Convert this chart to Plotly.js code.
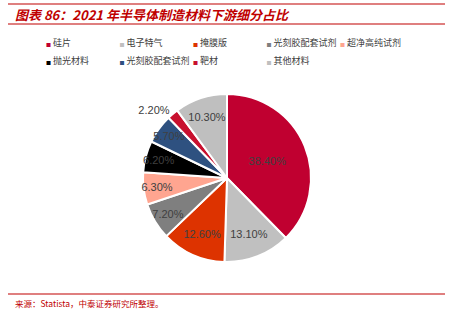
<!DOCTYPE html>
<html><head><meta charset="utf-8">
<script src="https://cdn.plot.ly/plotly-3.0.1.min.js"></script>
<style>html,body{margin:0;padding:0;background:#fff}#chart{width:449px;height:312px}</style>
</head><body><div id="chart"></div>
<script>
var categories = ['硅片','电子特气','掩膜版','光刻胶配套试剂','超净高纯试剂','抛光材料','光刻胶配套试剂','靶材','其他材料'];
var shares = [38.4, 13.1, 12.6, 7.2, 6.3, 6.2, 5.7, 2.2, 10.3];
var colors = ['#c00030','#c0c0c0','#dd3300','#7f7f7f','#ffa590','#000000','#2e5180','#c8102e','#bfbfbf'];
var textPos = ['inside','inside','inside','inside','inside','inside','inside','outside','inside'];
var legendRow = ['legend','legend','legend','legend','legend','legend2','legend2','legend2','legend2'];
var titleText = '图表 86：2021 年半导体制造材料下游细分占比';
var sourceText = '来源：Statista，中泰证券研究所整理。';

var W = 449, H = 312;
function px(x){return x/W;} function py(y){return 1 - y/H;}

var pieBase = {
  type:'pie',
  ids: categories.map(function(c,i){return 'slice'+i;}),
  labels: categories.map(function(c,i){return c + '\u200b'.repeat(i);}),
  values: shares,
  sort:false, direction:'clockwise', rotation:0,
  domain:{x:[px(143), px(311)], y:[py(262), py(94)]},
  showlegend:false, hoverinfo:'none'
};
var pieFill = Object.assign({}, pieBase, {
  marker:{colors:colors, line:{color:'#ffffff', width:2}},
  textinfo:'none'
});
var pieText = Object.assign({}, pieBase, {
  marker:{colors:shares.map(function(){return 'rgba(0,0,0,0)';}), line:{width:0}},
  texttemplate: shares.map(function(v){return v.toFixed(2)+'%';}),
  textposition: textPos,
  insidetextorientation:'horizontal',
  textfont:{family:'Liberation Sans, Arial, sans-serif', size:11, color:'#404040'},
  outsidetextfont:{family:'Liberation Sans, Arial, sans-serif', size:11, color:'#404040'}
});
var traces = [pieFill, pieText];
categories.forEach(function(c,i){
  var lastInRow = (i === legendRow.length - 1) || (legendRow[i+1] !== legendRow[i]);
  traces.push({type:'scatter', mode:'markers', x:[null], y:[null], legend:legendRow[i],
    name:'<span style="color:'+colors[i]+';font-size:5px">■</span> ' + c,
    legendwidth: lastInRow ? 75 : 28.5,
    marker:{symbol:'square', size:1, color:'rgba(0,0,0,0)', line:{width:0, color:'rgba(0,0,0,0)'}},
    showlegend:true, hoverinfo:'none'});
});

function legendAt(yPix){
  return {orientation:'h', x:px(6), y:py(yPix), xanchor:'left', yanchor:'middle',
    entrywidth:28.5, entrywidthmode:'pixels', itemwidth:30, tracegroupgap:0,
    font:{family:'Noto Sans CJK SC, sans-serif', size:9, color:'#404040'},
    bgcolor:'rgba(0,0,0,0)'};
}

var layout = {
  width:W, height:H, margin:{l:0,r:0,t:0,b:0},
  paper_bgcolor:'#ffffff', plot_bgcolor:'#ffffff',
  uniformtext:{mode:'show', minsize:11},
  xaxis:{visible:false, domain:[0,1]}, yaxis:{visible:false, domain:[0,1]},
  showlegend:true,
  legend:legendAt(42),
  legend2:legendAt(60),
  shapes:[
    {type:'line', xref:'paper', yref:'paper', x0:px(8), x1:px(445), y0:py(4), y1:py(4), line:{color:'#c00000', width:1.2}},
    {type:'line', xref:'paper', yref:'paper', x0:px(8), x1:px(445), y0:py(24), y1:py(24), line:{color:'#c00000', width:1.2}},
    {type:'line', xref:'paper', yref:'paper', x0:px(8), x1:px(445), y0:py(294), y1:py(294), line:{color:'#c00000', width:1.2}}
  ],
  annotations:[
    {xref:'paper', yref:'paper', x:px(13), y:py(14.5), xanchor:'left', yanchor:'middle', showarrow:false,
     text:'<b><i>'+titleText+'</i></b>', font:{family:'Noto Sans CJK SC, sans-serif', size:13, color:'#c00000'}},
    {xref:'paper', yref:'paper', x:px(13), y:py(303), xanchor:'left', yanchor:'middle', showarrow:false,
     text:sourceText, font:{family:'Noto Sans CJK SC, sans-serif', size:8.5, color:'#c00000'}}
  ]
};
Plotly.newPlot('chart', traces, layout, {staticPlot:true, displayModeBar:false});
</script></body></html>
